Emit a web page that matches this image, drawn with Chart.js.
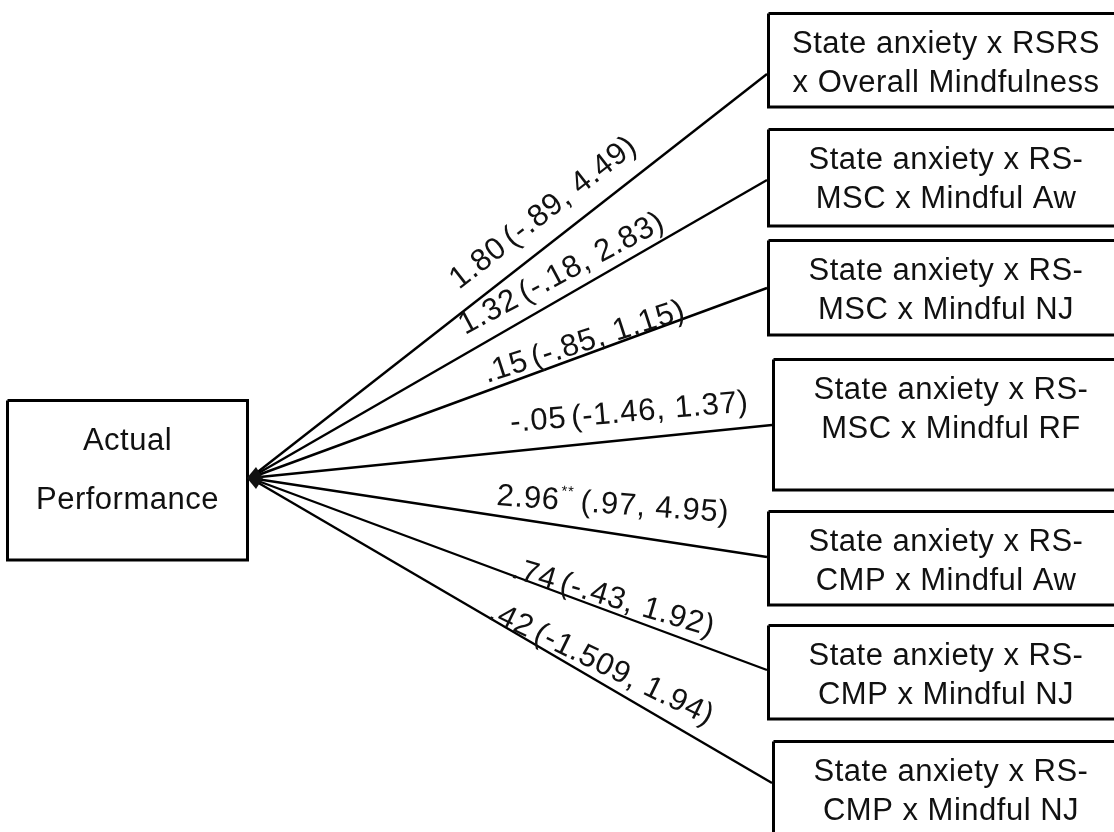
<!DOCTYPE html>
<html>
<head>
<meta charset="utf-8">
<script src="https://cdn.jsdelivr.net/npm/chart.js@4.4.1/dist/chart.umd.min.js"></script>
<style>
  html, body { margin: 0; padding: 0; background: #fff; }
  #wrap { width: 1114px; height: 832px; }
</style>
</head>
<body>
<div id="wrap"><canvas id="pathChart" width="1114" height="832"></canvas></div>
<script>
// --- data ---
const outcomeLabel = ['Actual', 'Performance'];
const predictorLabels = [
  ['State anxiety x RSRS', 'x Overall Mindfulness'],
  ['State anxiety x RS-', 'MSC x Mindful Aw'],
  ['State anxiety x RS-', 'MSC x Mindful NJ'],
  ['State anxiety x RS-', 'MSC x Mindful RF'],
  ['State anxiety x RS-', 'CMP x Mindful Aw'],
  ['State anxiety x RS-', 'CMP x Mindful NJ'],
  ['State anxiety x RS-', 'CMP x Mindful NJ']
];
const estimates = [1.80, 1.32, 0.15, -0.05, 2.96, 0.74, 0.42];
const ciLower = [-0.89, -0.18, -0.85, -1.46, 0.97, -0.43, -1.509];
const ciUpper = [4.49, 2.83, 1.15, 1.37, 4.95, 1.92, 1.94];
const significance = ['', '', '', '', '**', '', ''];

// --- layout (page units = pixels of the 1114x832 figure) ---
const hub = { x: 250, y: 478 };
const outcomeBox = { l: 7.5, t: 400.5, r: 247.5, b: 560 };
const boxLeft = [767, 767, 767, 772, 767, 767, 772];
const boxTop = [12, 128, 239, 358, 510, 624, 740];
const boxBottom = [107, 226, 335, 490, 605, 719, 850];
const boxRight = 1125;
const pathEndY = [74, 180, 288, 425, 557, 670, 783];
// baseline-left of each path label and its rotation in degrees
const labelAnchor = [
  [459, 290, -38], [465, 335, -28], [487, 383, -18], [511, 432, -5],
  [496, 505, 4.2], [510, 577, 16.5], [487, 618, 26]
];

const FONT = '"Liberation Sans", Arial, Helvetica, sans-serif';

function fmt(v) {
  const s = String(v);
  const dec = s.includes('.') ? s.split('.')[1].length : 0;
  return v.toFixed(Math.max(2, dec)).replace(/^(-?)0\./, '$1.');
}

function rectPts(l, t, r, b) {
  return [{ x: l, y: t }, { x: r, y: t }, { x: r, y: b }, { x: l, y: b }, { x: l, y: t }];
}

const datasets = [];
datasets.push({
  data: rectPts(outcomeBox.l, outcomeBox.t, outcomeBox.r, outcomeBox.b),
  borderColor: '#000', borderWidth: 3
});
predictorLabels.forEach((_, i) => {
  datasets.push({
    data: rectPts(boxLeft[i] + 1.5, boxTop[i] + 1.5, boxRight, boxBottom[i]),
    borderColor: '#000', borderWidth: 3
  });
  datasets.push({
    data: [{ x: hub.x, y: hub.y }, { x: boxLeft[i], y: pathEndY[i] }],
    borderColor: '#000', borderWidth: 2.4
  });
});
datasets.forEach(d => {
  d.showLine = true;
  d.pointRadius = 0;
  d.tension = 0;
  d.fill = false;
});

const textPlugin = {
  id: 'pathText',
  afterDatasetsDraw(chart) {
    const { ctx } = chart;
    const sx = chart.scales.x, sy = chart.scales.y;
    const X = v => sx.getPixelForValue(v);
    const Y = v => sy.getPixelForValue(v);
    ctx.save();
    ctx.fillStyle = '#111';

    // arrowhead at the outcome box
    ctx.beginPath();
    ctx.moveTo(X(hub.x - 3), Y(hub.y));
    ctx.lineTo(X(hub.x + 6), Y(hub.y - 11));
    ctx.lineTo(X(hub.x + 13), Y(hub.y));
    ctx.lineTo(X(hub.x + 6), Y(hub.y + 11));
    ctx.closePath();
    ctx.fill();

    ctx.textAlign = 'center';
    ctx.textBaseline = 'alphabetic';
    ctx.font = '31px ' + FONT;
    ctx.letterSpacing = '0.5px';
    const cx = (outcomeBox.l + outcomeBox.r) / 2;
    ctx.fillText(outcomeLabel[0], X(cx), Y(450));
    ctx.fillText(outcomeLabel[1], X(cx), Y(509));

    predictorLabels.forEach((lines, i) => {
      const tx = boxLeft[i] + 179;
      ctx.fillText(lines[0], X(tx), Y(boxTop[i] + 41));
      ctx.fillText(lines[1], X(tx), Y(boxTop[i] + 80));
    });

    ctx.textAlign = 'left';
    ctx.letterSpacing = '0.7px';
    estimates.forEach((est, i) => {
      const [ax, ay, deg] = labelAnchor[i];
      ctx.save();
      ctx.translate(X(ax), Y(ay));
      ctx.rotate(deg * Math.PI / 180);
      ctx.font = '31px ' + FONT;
      const main = fmt(est);
      ctx.fillText(main, 0, 0);
      let w = ctx.measureText(main).width;
      if (significance[i]) {
        ctx.font = '15px ' + FONT;
        ctx.fillText(significance[i], w + 1, -14);
        w += ctx.measureText(significance[i]).width + 3;
        ctx.font = '31px ' + FONT;
      }
      w += 5;
      ctx.fillText('(' + fmt(ciLower[i]) + ', ' + fmt(ciUpper[i]) + ')', w, 0);
      ctx.restore();
    });
    ctx.restore();
  }
};

new Chart(document.getElementById('pathChart'), {
  type: 'scatter',
  data: { datasets },
  options: {
    responsive: false,
    animation: false,
    devicePixelRatio: 1,
    layout: { padding: 0 },
    scales: {
      x: { type: 'linear', min: 0, max: 1114, display: false },
      y: { type: 'linear', min: 0, max: 832, reverse: true, display: false }
    },
    plugins: { legend: { display: false }, tooltip: { enabled: false } }
  },
  plugins: [textPlugin]
});
</script>
</body>
</html>
